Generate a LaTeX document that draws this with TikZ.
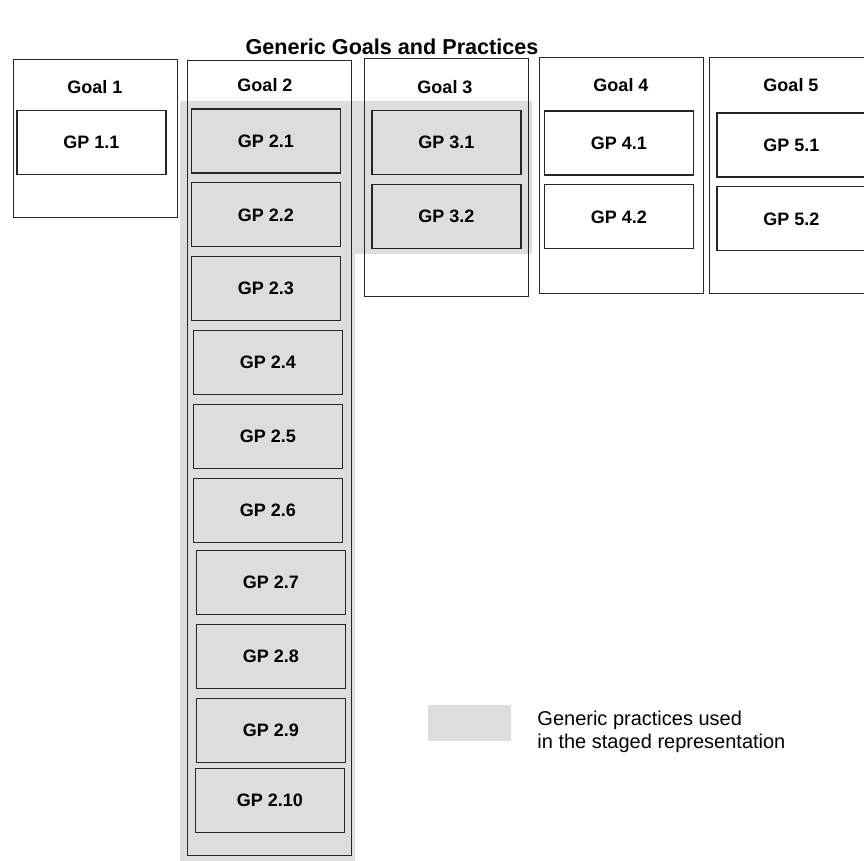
\documentclass[tikz,border=0pt]{standalone}
\usepackage{fontspec}
\setmainfont{Liberation Sans}
\usetikzlibrary{positioning}
\definecolor{stagedgray}{RGB}{221,221,221}
\tikzset{every picture/.style={line width=0.6pt}}

\begin{document}
\begin{tikzpicture}[x=0.5pt, y=-0.5pt, node distance=4.35pt,
    goalbox/.style={draw=black!85, rectangle, minimum width=82pt, inner sep=0pt, anchor=north west},
    goaltitle/.style={font=\bfseries\fontsize{9}{11}\selectfont},
    gpbox/.style={draw=black!85, rectangle, fill=white, minimum width=74.5pt, minimum height=32pt, inner sep=0pt, font=\bfseries\fontsize{9}{11}\selectfont},
    gpstaged/.style={gpbox, fill=stagedgray}]
    \useasboundingbox (0,0) rectangle (864,861);
    \clip (0,0) rectangle (864,861);

    % Staged representation area
    \fill[stagedgray] (180,101) rectangle (532,254);
    \fill[stagedgray] (180,101) rectangle (355,861);

    % Title
    \node[font=\bfseries\fontsize{10.8}{13}\selectfont] (title) at (392,47) {Generic Goals and Practices};

    % Goals
    \node[goalbox, minimum height=79pt] (goal1) at (13,59) {};
    \node[goalbox, minimum height=397.5pt] (goal2) at (187,60) {};
    \node[goalbox, minimum height=119pt] (goal3) at (364,58) {};
    \node[goalbox, minimum height=118pt] (goal4) at (539,57) {};
    \node[goalbox, minimum height=118pt] (goal5) at (709,57) {};
    \node[goaltitle] (goal1title) at (95,87) {Goal 1};
    \node[goaltitle] (goal2title) at (265,85) {Goal 2};
    \node[goaltitle] (goal3title) at (445,87) {Goal 3};
    \node[goaltitle] (goal4title) at (621,85) {Goal 4};
    \node[goaltitle] (goal5title) at (791,85) {Goal 5};

    % Generic practices
    \node[gpbox] (gp11) at (91.5,142.5) {GP 1.1};

    \node[gpstaged] (gp21) at (266,141) {GP 2.1};
    \node[gpstaged, below=of gp21] (gp22) {GP 2.2};
    \node[gpstaged, below=of gp22] (gp23) {GP 2.3};
    \node[gpstaged, below=of gp23, xshift=1pt] (gp24) {GP 2.4};
    \node[gpstaged, below=of gp24] (gp25) {GP 2.5};
    \node[gpstaged, below=of gp25] (gp26) {GP 2.6};
    \node[gpstaged, below=3.4pt of gp26, xshift=1.5pt] (gp27) {GP 2.7};
    \node[gpstaged, below=of gp27] (gp28) {GP 2.8};
    \node[gpstaged, below=of gp28] (gp29) {GP 2.9};
    \node[gpstaged, below=2.4pt of gp29, xshift=-0.5pt] (gp210) {GP 2.10};

    \node[gpstaged] (gp31) at (446.5,142.5) {GP 3.1};
    \node[gpstaged, below=of gp31] (gp32) {GP 3.2};

    \node[gpbox] (gp41) at (619,143) {GP 4.1};
    \node[gpbox, below=of gp41] (gp42) {GP 4.2};

    \node[gpbox] (gp51) at (791.5,145) {GP 5.1};
    \node[gpbox, below=of gp51] (gp52) {GP 5.2};

    % Legend
    \node[fill=stagedgray, minimum width=41.5pt, minimum height=18pt, inner sep=0pt, anchor=north west] (legendkey) at (427,704) {};
    \node[right=9.5pt of legendkey, yshift=-4.5pt, align=left, font=\fontsize{10}{11.5}\selectfont] (legendtext) {Generic practices used\\in the staged representation};
\end{tikzpicture}
\end{document}
